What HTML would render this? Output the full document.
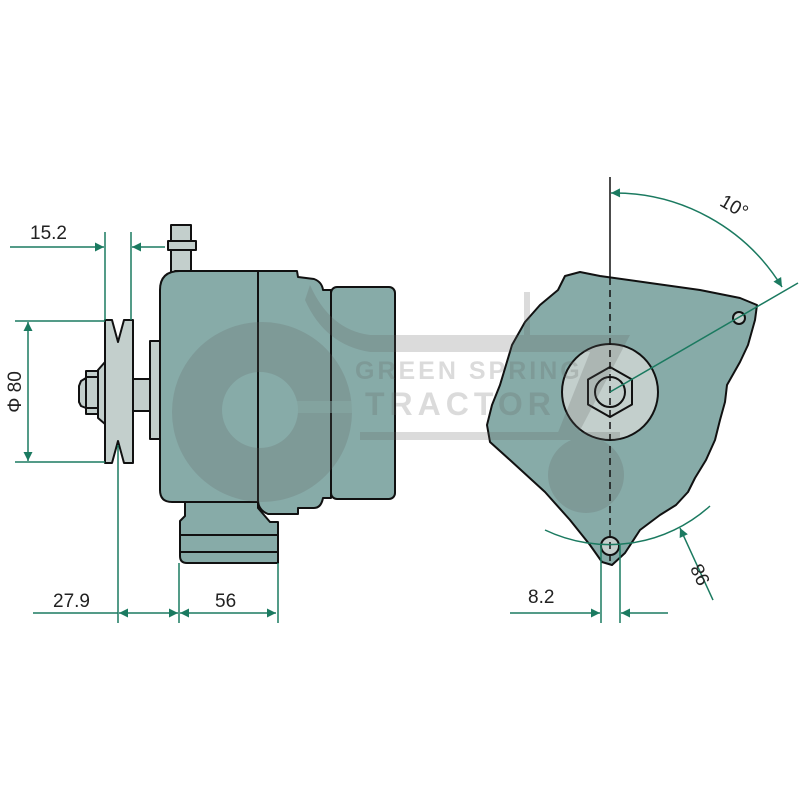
<!DOCTYPE html>
<html><head><meta charset="utf-8"><style>html,body{margin:0;padding:0;background:#fff}svg{display:block}</style></head>
<body>
<svg width="800" height="800" viewBox="0 0 800 800" xmlns="http://www.w3.org/2000/svg" font-family="Liberation Sans, sans-serif">
<defs>
<marker id="a" viewBox="0 0 10 10" refX="10" refY="5" markerWidth="15" markerHeight="9" orient="auto-start-reverse" markerUnits="userSpaceOnUse"><path d="M0,0 L10,5 L0,10 z" fill="#1b7a60"/></marker>
</defs>
<g stroke="#111" stroke-width="2" stroke-linejoin="round">
<rect x="171" y="225" width="20" height="50" fill="#c3cfcc"/>
<rect x="168" y="241" width="28" height="9" fill="#c3cfcc"/>
<path d="M250,271 L297,271 L298,277 L314,279 Q322,282 323,290 L331,290 L331,498 L323,498 Q321,508 314,508 L298,508 L298,514 L268,514 Q258,510 258,500 Z" fill="#87aba8"/>
<rect x="331" y="287" width="64" height="212" rx="6" fill="#87aba8"/>
<path d="M185,500 L185,516 L180,521 L180,556 Q180,563 187,563 L278,563 L278,522 L270,522 L258,508 L258,500 Z" fill="#87aba8"/>
<line x1="180" y1="535" x2="278" y2="535"/>
<line x1="180" y1="552" x2="278" y2="552"/>
<path d="M175,271 L258,271 L258,502 L172,502 Q160,502 160,490 L160,290 Q160,271 180,271 Z" fill="#87aba8"/>
<rect x="150" y="341" width="10" height="98" fill="#c3cfcc"/>
<rect x="133" y="379" width="17" height="32" fill="#c3cfcc"/>
<path d="M105,320 L112,320 L118,342 L124,320 L133,320 L133,463 L124,463 L118,441 L112,463 L105,463 Z" fill="#c3cfcc"/>
<path d="M105,362 L98,370 L98,418 L105,424 Z" fill="#c3cfcc"/>
<rect x="86" y="371" width="12" height="43" fill="#c3cfcc"/>
<line x1="86" y1="377" x2="98" y2="377"/><line x1="86" y1="408" x2="98" y2="408"/>
<path d="M86,378 L81,381 L79,386 L79,402 L81,406 L86,408 Z" fill="#c3cfcc"/>
<path d="M558,290 L565,276 L580,272 L600,276 L650,283 L700,290 L740,298 L757,305 L755,320 L748,345 L740,362 L727,385 L725,402 L720,420 L715,440 L706,460 L695,478 L688,492 L676,505 L660,515 L640,530 L625,553 L612,565 L602,562 L590,545 L570,520 L545,492 L510,460 L490,442 L487,425 L492,405 L500,385 L506,365 L512,345 L525,322 L540,305 Z" fill="#87aba8"/>
<circle cx="610" cy="392" r="48" fill="#c3cfcc"/>
<polygon points="610,367 632,379.5 632,404.5 610,417 588,404.5 588,379.5" fill="#c3cfcc"/>
<circle cx="610" cy="392" r="15" fill="#c3cfcc"/>
<circle cx="739" cy="318" r="6" fill="#c3cfcc"/>
<circle cx="610" cy="546" r="9" fill="#c3cfcc"/>
</g>
<line x1="258" y1="271" x2="258" y2="505" stroke="#111" stroke-width="2"/>
<!-- watermark -->
<g fill="#606060" opacity="0.22">
<path fill-rule="evenodd" d="M262,322 A90,90 0 1 0 262,502 A90,90 0 1 0 262,322 Z M260,372 A38,38 0 1 1 260,448 A38,38 0 1 1 260,372 Z"/>
<path d="M310,285 Q330,330 370,335 L630,335 L615,352 L370,352 Q325,345 305,300 Z"/>
<rect x="360" y="432" width="260" height="8"/>
<rect x="524" y="292" width="6" height="60"/>
<path d="M590,352 L630,335 L575,440 L555,440 Z"/>
<circle cx="586" cy="475" r="38"/>
<text x="355" y="379" font-size="25" font-weight="bold" letter-spacing="3">GREEN SPRING</text>
<text x="365" y="415" font-size="32" font-weight="bold" letter-spacing="5">TRACTOR</text>
</g>
<g fill="#87aba8" opacity="0.5"><rect x="296" y="401" width="57" height="12"/></g>
<line x1="610" y1="177" x2="610" y2="278" stroke="#111" stroke-width="1.5"/>
<line x1="610" y1="278" x2="610" y2="565" stroke="#111" stroke-width="1.5" stroke-dasharray="7,5"/>
<g stroke="#1b7a60" stroke-width="1.5" fill="none">
<line x1="105" y1="232" x2="105" y2="320"/>
<line x1="131" y1="232" x2="131" y2="320"/>
<line x1="10" y1="247" x2="104" y2="247" marker-end="url(#a)"/>
<line x1="165" y1="247" x2="132" y2="247" marker-end="url(#a)"/>
<line x1="15" y1="321" x2="105" y2="321"/>
<line x1="15" y1="462" x2="105" y2="462"/>
<line x1="28" y1="322" x2="28" y2="461" marker-start="url(#a)" marker-end="url(#a)"/>
<line x1="118" y1="445" x2="118" y2="623"/>
<line x1="179" y1="563" x2="179" y2="623"/>
<line x1="278" y1="563" x2="278" y2="623"/>
<line x1="33" y1="613" x2="118" y2="613"/>
<line x1="119" y1="613" x2="178" y2="613" marker-start="url(#a)" marker-end="url(#a)"/>
<line x1="180" y1="613" x2="276" y2="613" marker-start="url(#a)" marker-end="url(#a)"/>
<path d="M611,193 A197,197 0 0 1 782,287" marker-start="url(#a)" marker-end="url(#a)"/>
<line x1="610" y1="392" x2="798" y2="283"/>
<path d="M545,530 A150,150 0 0 0 710,506"/>
<line x1="713" y1="600" x2="680" y2="528" marker-end="url(#a)"/>
<line x1="601" y1="545" x2="601" y2="623"/>
<line x1="620" y1="545" x2="620" y2="623"/>
<line x1="510" y1="613" x2="600" y2="613" marker-end="url(#a)"/>
<line x1="668" y1="613" x2="621" y2="613" marker-end="url(#a)"/>
</g>
<g fill="#222" font-size="19">
<text x="30" y="239">15.2</text>
<text x="53" y="607">27.9</text>
<text x="215" y="607">56</text>
<text x="528" y="603">8.2</text>
<text transform="translate(21,392) rotate(-90)" text-anchor="middle">Φ 80</text>
<text transform="translate(731,212) rotate(30)" text-anchor="middle">10°</text>
<text transform="translate(706,572) rotate(-115)" text-anchor="middle">98</text>
</g>
</svg>
</body></html>
